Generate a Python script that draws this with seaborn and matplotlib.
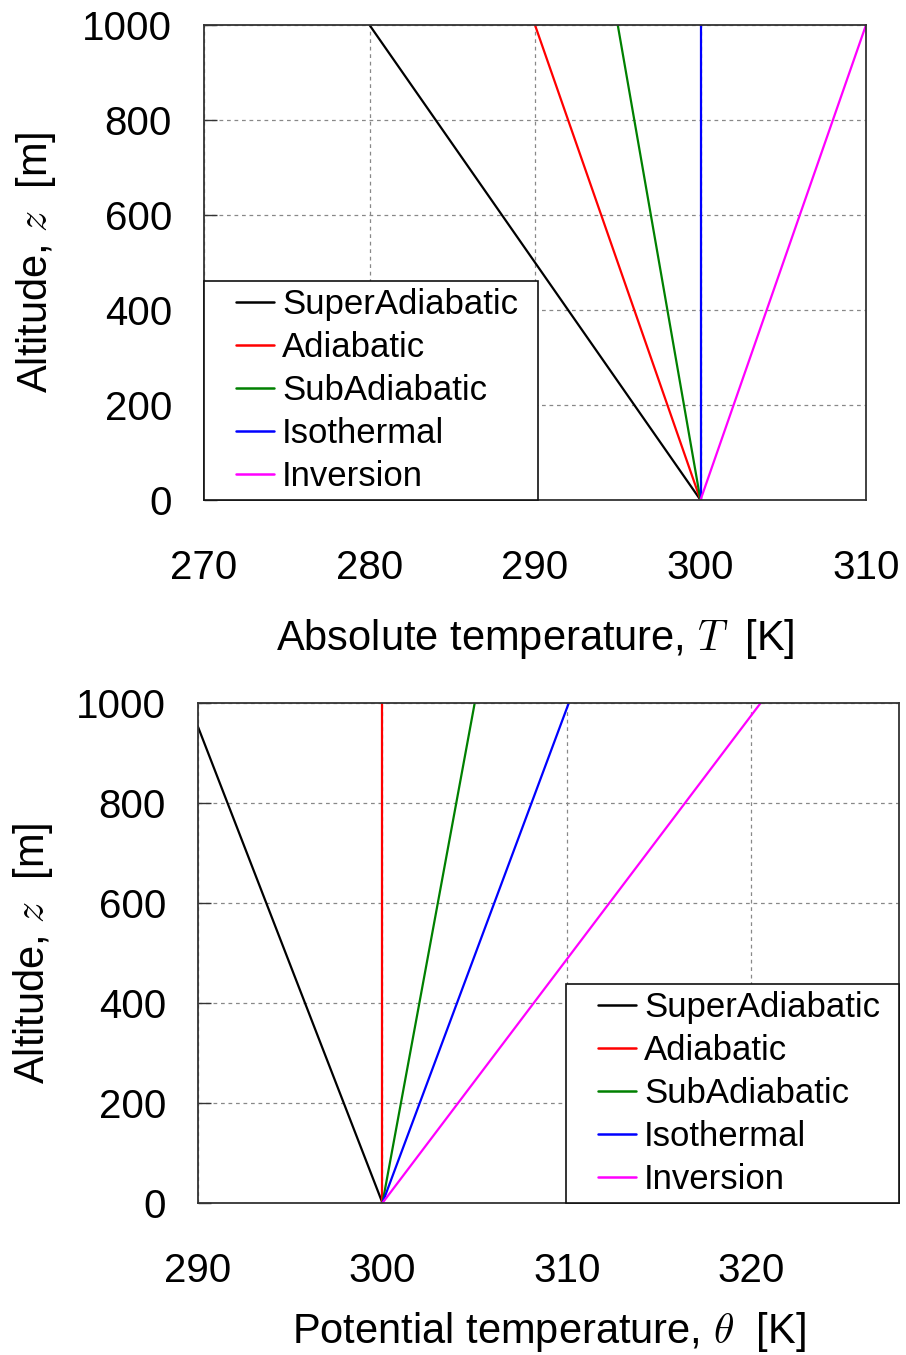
import numpy as np
import pandas as pd
import matplotlib
matplotlib.use("Agg")
import matplotlib.pyplot as plt
from matplotlib.legend_handler import HandlerLine2D
from matplotlib.lines import Line2D
import seaborn as sns

# Profile names and colours
profiles = ["SuperAdiabatic", "Adiabatic", "SubAdiabatic", "Isothermal", "Inversion"]
colors = ["#000000", "#ff0000", "#008000", "#0000ff", "#ff00ff"]

# Altitude of the profile end points [m]
altitude = [0, 1000]

# Absolute temperature at the surface and at 1000 m [K]
T_super = [300.0, 280.0]
T_adiab = [300.0, 290.0]
T_sub = [300.0, 295.0]
T_iso = [300.0, 300.0]
T_inv = [300.0, 310.0]

# Potential temperature at the surface and at 1000 m [K]
th_super = [300.0, 289.5]
th_adiab = [300.0, 300.0]
th_sub = [300.0, 305.0]
th_iso = [300.0, 310.1]
th_inv = [300.0, 320.5]

y_ticks = [0, 200, 400, 600, 800, 1000]
T_ticks = [270, 280, 290, 300, 310]
th_ticks = [290, 300, 310, 320]


def long_frame(series, col):
    rows = []
    for name, vals in zip(profiles, series):
        for z, v in zip(altitude, vals):
            rows.append({"profile": name, col: v, "z": z})
    return pd.DataFrame(rows)


df_T = long_frame([T_super, T_adiab, T_sub, T_iso, T_inv], "T")
df_th = long_frame([th_super, th_adiab, th_sub, th_iso, th_inv], "theta")

sns.set_theme(style="white")
plt.rcParams["font.family"] = ["Liberation Sans", "DejaVu Sans"]
plt.rcParams["mathtext.fontset"] = "cm"
plt.rcParams["text.color"] = "black"
plt.rcParams["axes.labelcolor"] = "black"
plt.rcParams["xtick.color"] = "black"
plt.rcParams["ytick.color"] = "black"

W, H = 906, 1355
fig = plt.figure(figsize=(W / 100, H / 100), dpi=100)
ax1 = fig.add_axes([204 / W, 1 - 500 / H, 662 / W, 475 / H])
ax2 = fig.add_axes([198 / W, 1 - 1203 / H, 701 / W, 500 / H])

palette = dict(zip(profiles, colors))

LEG_FS = 25


def style_axes(ax, xlim, xticks, xlabel, xlabelpad, ylabelpad, leg_bbox, leg_loc):
    ax.set_xlim(*xlim)
    ax.set_ylim(0, 1000)
    ax.set_xticks(xticks)
    ax.set_yticks(y_ticks)
    ax.grid(True, linestyle=(0, (3, 3)), color="#888888", linewidth=0.9)
    ax.set_axisbelow(True)
    for s in ax.spines.values():
        s.set_color("#333333")
        s.set_linewidth(1.3)
    ax.tick_params(axis="y", direction="in", length=9, width=1, color="#333333",
                   labelsize=29, pad=23, left=True)
    ax.tick_params(axis="x", direction="in", length=0, labelsize=29, pad=35, bottom=True)
    ax.set_xlabel(xlabel, fontsize=30, labelpad=xlabelpad)
    ax.set_ylabel(r"Altitude, $z$  [m]", fontsize=30, labelpad=ylabelpad)

    handles = [Line2D([], [], color=c, linewidth=1.8) for c in colors]
    handler = HandlerLine2D(xpad=0.72)
    leg = ax.legend(handles, profiles, loc=leg_loc, bbox_to_anchor=leg_bbox,
                    mode="expand", fontsize=LEG_FS, frameon=True, fancybox=False,
                    borderaxespad=0, handlelength=1.82, handletextpad=0.23,
                    labelspacing=0.29, borderpad=0.2, framealpha=1,
                    handler_map={Line2D: handler})
    leg.get_frame().set_edgecolor("#111111")
    leg.get_frame().set_linewidth(1.2)


sns.lineplot(data=df_T, x="T", y="z", hue="profile", hue_order=profiles,
             palette=palette, sort=False, estimator=None, linewidth=1.6, ax=ax1)
style_axes(ax1, (270, 310), T_ticks, r"Absolute temperature, $T$  [K]", 22, 17,
           (0, 0, 334 / 662, 0.3), "lower left")

sns.lineplot(data=df_th, x="theta", y="z", hue="profile", hue_order=profiles,
             palette=palette, sort=False, estimator=None, linewidth=1.6, ax=ax2)
style_axes(ax2, (290, 328), th_ticks, r"Potential temperature, $\theta$  [K]", 15, 15,
           (1 - 333 / 701, 0, 333 / 701, 0.3), "lower right")

fig.savefig("out.png", dpi=100, facecolor="white")
